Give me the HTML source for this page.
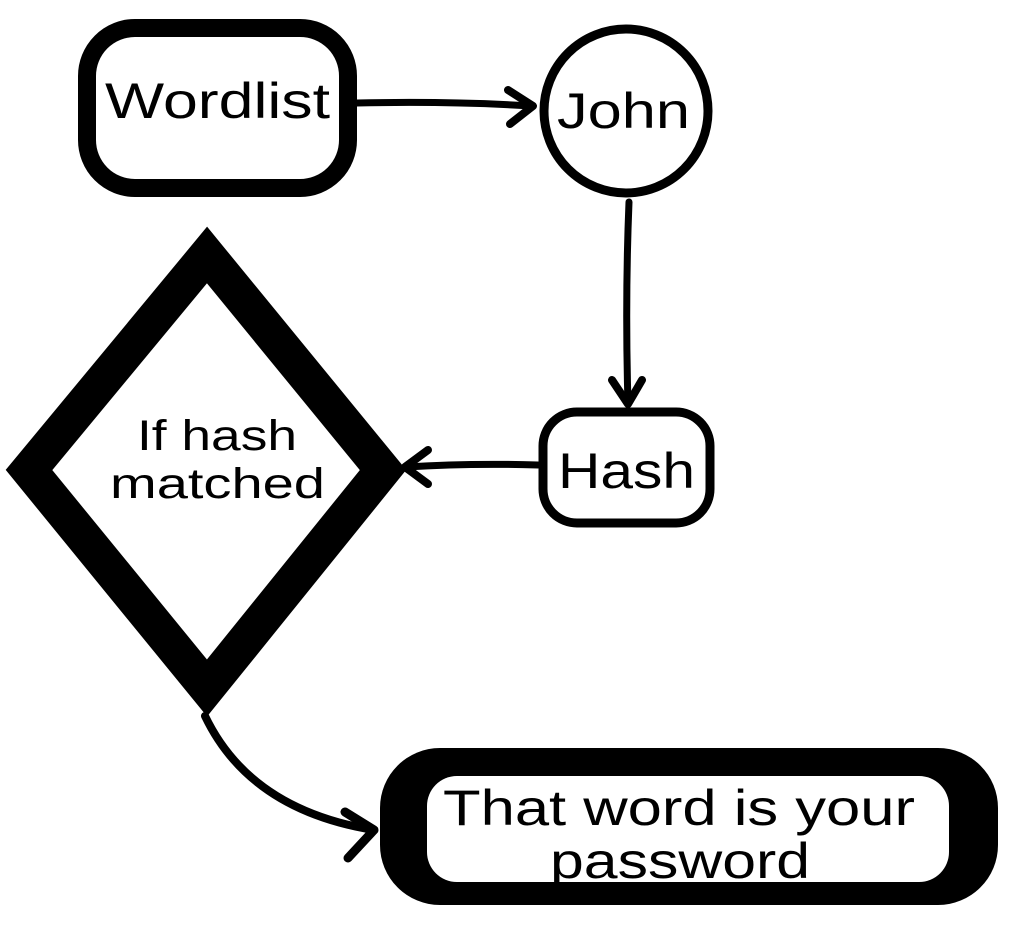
<!DOCTYPE html>
<html><head><style>
html,body{margin:0;padding:0;background:#fff;width:1024px;height:930px;overflow:hidden}
text{font-family:"Liberation Sans",sans-serif;fill:#000}
</style></head><body>
<svg width="1024" height="930" viewBox="0 0 1024 930" xmlns="http://www.w3.org/2000/svg">
<rect x="87" y="28" width="261" height="160" rx="48" fill="#fff" stroke="#000" stroke-width="18"/>
<text x="105" y="118" font-size="50" textLength="225" lengthAdjust="spacingAndGlyphs">Wordlist</text>
<path d="M357 103 Q450 101 532 106" fill="none" stroke="#000" stroke-width="7" stroke-linecap="round"/>
<path d="M508 90 L533 106 L510 124" fill="none" stroke="#000" stroke-width="8" stroke-linecap="round" stroke-linejoin="round"/>
<circle cx="626" cy="111" r="82" fill="#fff" stroke="#000" stroke-width="9"/>
<text x="557" y="128" font-size="50" textLength="133" lengthAdjust="spacingAndGlyphs">John</text>
<path d="M629 202 Q625 300 628 404" fill="none" stroke="#000" stroke-width="7" stroke-linecap="round"/>
<path d="M612 380 L628 404 L642 380" fill="none" stroke="#000" stroke-width="8" stroke-linecap="round" stroke-linejoin="round"/>
<rect x="543" y="412" width="167" height="111" rx="34" fill="#fff" stroke="#000" stroke-width="9"/>
<text x="558" y="488" font-size="50" textLength="137" lengthAdjust="spacingAndGlyphs">Hash</text>
<path d="M538 465 Q470 463 406 467" fill="none" stroke="#000" stroke-width="7" stroke-linecap="round"/>
<path d="M428 450 L405 467 L428 484" fill="none" stroke="#000" stroke-width="8" stroke-linecap="round" stroke-linejoin="round"/>
<polygon points="207,255 383,470 207,688 29,470" fill="#fff" stroke="#000" stroke-width="36" stroke-linejoin="miter"/>
<text x="137" y="450" font-size="43" textLength="160" lengthAdjust="spacingAndGlyphs">If hash</text>
<text x="110" y="498" font-size="43" textLength="215" lengthAdjust="spacingAndGlyphs">matched</text>
<path d="M205 716 Q250 810 374 830" fill="none" stroke="#000" stroke-width="8" stroke-linecap="round"/>
<path d="M345 812 L374 830 L348 858" fill="none" stroke="#000" stroke-width="9" stroke-linecap="round" stroke-linejoin="round"/>
<rect x="380" y="748" width="618" height="157" rx="60" fill="#000"/>
<rect x="427" y="776" width="522" height="106" rx="30" fill="#fff"/>
<text x="443" y="825" font-size="50" textLength="472" lengthAdjust="spacingAndGlyphs">That word is your</text>
<text x="550" y="878" font-size="50" textLength="260" lengthAdjust="spacingAndGlyphs">password</text>
</svg>
</body></html>
